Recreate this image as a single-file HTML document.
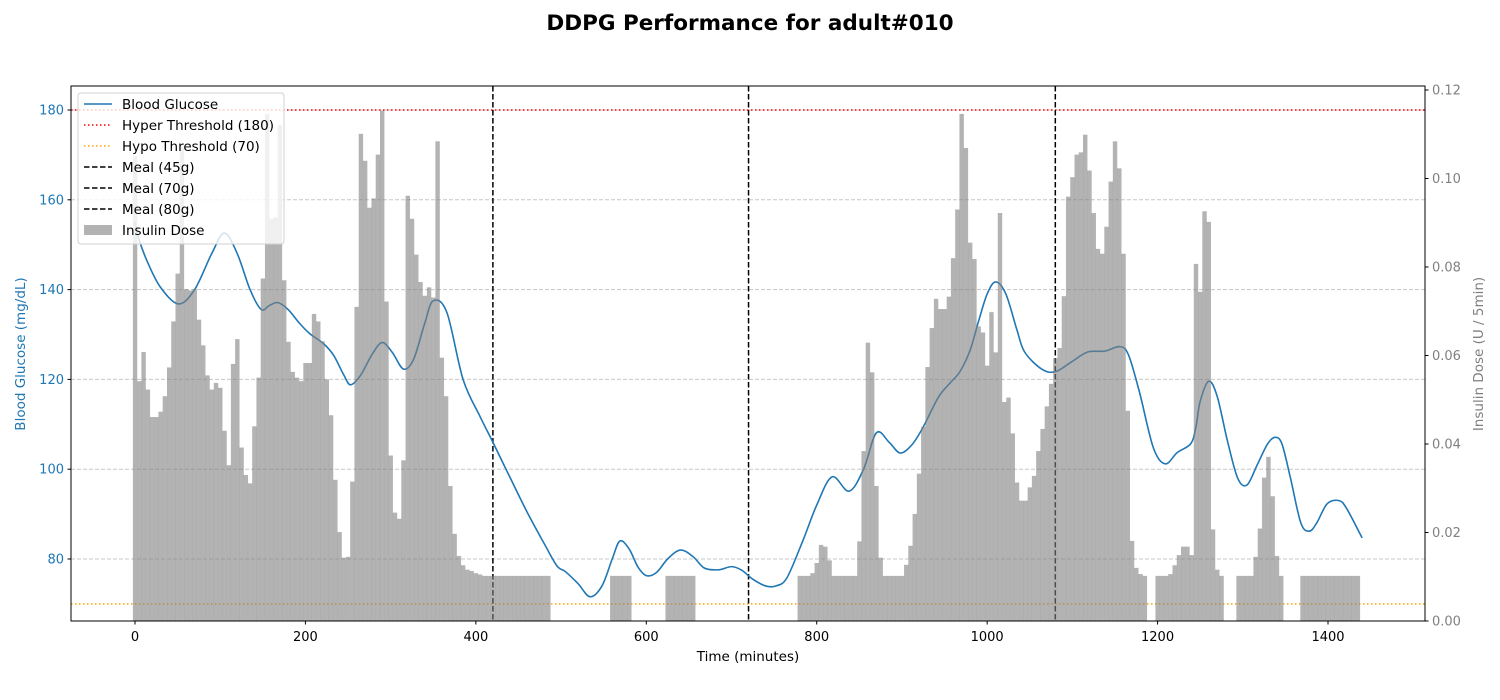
<!DOCTYPE html>
<html><head><meta charset="utf-8"><style>
html,body{margin:0;padding:0;background:#fff;}
svg{display:block;font-family:"DejaVu Sans","Liberation Sans",sans-serif;}
</style></head><body>
<svg id="chart" width="1500" height="700" viewBox="0 0 1500 700" xmlns="http://www.w3.org/2000/svg">
<text x="750" y="30" text-anchor="middle" font-size="21.5" font-weight="bold">DDPG Performance for adult#010</text>
<g id="grid"></g>
<g id="refs"></g>
<g id="line"></g>
<g id="bars"></g>
<rect x="71" y="86" width="1354" height="535" fill="none" stroke="#000" stroke-width="1"/>
<g id="axes"></g>
<text x="748" y="661" text-anchor="middle" font-size="13.5">Time (minutes)</text>
<text transform="translate(25,354) rotate(-90)" text-anchor="middle" font-size="13.5" fill="#1f77b4">Blood Glucose (mg/dL)</text>
<text transform="translate(1483,354) rotate(-90)" text-anchor="middle" font-size="13.5" fill="#808080">Insulin Dose (U / 5min)</text>
<g>
 <rect x="78" y="93" width="206" height="151" rx="3" fill="#fff" fill-opacity="0.8" stroke="#d0d0d0"/>
 <line x1="84" y1="104" x2="112" y2="104" stroke="#1f77b4" stroke-width="1.5"/>
 <text x="122" y="109" font-size="13.5">Blood Glucose</text>
 <line x1="84" y1="125" x2="112" y2="125" stroke="#ff0000" stroke-width="1.5" stroke-dasharray="1.5,2.5"/>
 <text x="122" y="130" font-size="13.5">Hyper Threshold (180)</text>
 <line x1="84" y1="146" x2="112" y2="146" stroke="#ffa500" stroke-width="1.5" stroke-dasharray="1.5,2.5"/>
 <text x="122" y="151" font-size="13.5">Hypo Threshold (70)</text>
 <line x1="84" y1="167" x2="112" y2="167" stroke="#000" stroke-width="1.5" stroke-dasharray="5.5,2.5"/>
 <text x="122" y="172" font-size="13.5">Meal (45g)</text>
 <line x1="84" y1="188" x2="112" y2="188" stroke="#000" stroke-width="1.5" stroke-dasharray="5.5,2.5"/>
 <text x="122" y="193" font-size="13.5">Meal (70g)</text>
 <line x1="84" y1="209" x2="112" y2="209" stroke="#000" stroke-width="1.5" stroke-dasharray="5.5,2.5"/>
 <text x="122" y="214" font-size="13.5">Meal (80g)</text>
 <rect x="84" y="225" width="28" height="10" fill="#b3b3b3"/>
 <text x="122" y="235" font-size="13.5">Insulin Dose</text>
</g>
</svg>
<script>
const glucoseTimes = [0,5,15,30,51,70,90,105,120,135,148,158,168,180,193,205,221,233,245,253,265,278,290,302,315,327,340,350,366,385,405,420,440,460,480,495,505,520,534,548,560,569,580,590,600,612,625,640,655,668,685,700,712,725,740,752,765,784,800,818,838,855,870,885,898,912,925,943,958,968,980,990,1000,1010,1022,1035,1044,1064,1080,1099,1118,1138,1156,1166,1179,1195,1209,1223,1239,1245,1250,1260,1270,1282,1294,1305,1317,1329,1338,1346,1356,1368,1378,1387,1399,1413,1422,1440];
const glucoseValues = [155,151,146,140.5,136.8,140,148,152.6,148,140,135.6,136.5,137.1,135.5,132.5,130.2,128,125.4,121,118.8,121,125.5,128.2,126,122.3,124.5,132.5,137.5,134.9,120,111.7,106,98.2,90.5,83.5,78.5,77.2,74.5,71.6,74,80,84,82.2,78.3,76.3,77,80,82,80.5,78,77.6,78.3,77.5,75.5,74,74,75.8,84.2,92,98.3,95.1,100,108.1,106,103.6,105.5,109.4,116.1,119.5,121.7,126.5,133,139,141.7,139,131,126.1,122.3,121.7,123.9,126.1,126.3,127.3,125.4,117,104.8,101.2,103.7,105.7,109.4,115.1,119.6,116.2,106.3,98,96.5,101,105.6,107.1,105.6,98,88.1,86.2,88.1,92.3,93,91.2,84.7];
const doseValues = [
0.105,0.0542,0.0608,0.0523,0.0461,0.0461,0.0473,0.0508,0.0573,0.0677,
0.0785,0.107,0.075,0.0747,0.075,0.0681,0.0623,0.0555,0.0523,0.0538,
0.0527,0.043,0.0352,0.0581,0.0637,0.0392,0.033,0.0311,0.044,0.055,
0.0774,0.1146,0.0909,0.0912,0.1121,0.077,0.0631,0.0563,0.055,0.0542,
0.0583,0.0583,0.0694,0.0677,0.0632,0.0546,0.0465,0.0319,0.0201,0.0143,
0.0145,0.0315,0.071,0.1101,0.104,0.0934,0.0955,0.1054,0.1154,0.0722,
0.0374,0.0245,0.0231,0.0363,0.0961,0.0909,0.0828,0.0766,0.0735,0.0754,
0.0731,0.1084,0.0595,0.0508,0.0305,0.0197,0.0147,0.0126,0.0116,0.0113,
0.0108,0.0105,0.0102,0.0102,0.0102,0.0102,0.0102,0.0102,0.0102,0.0102,
0.0102,0.0102,0.0102,0.0102,0.0102,0.0102,0.0102,0.0102,0,0,
0,0,0,0,0,0,0,0,0,0,
0,0,0.0102,0.0102,0.0102,0.0102,0.0102,0,0,0,
0,0,0,0,0,0.0102,0.0102,0.0102,0.0102,0.0102,
0.0102,0.0102,0,0,0,0,0,0,0,0,
0,0,0,0,0,0,0,0,0,0,
0,0,0,0,0,0,0.0102,0.0102,0.0102,0.0108,
0.0131,0.0172,0.0168,0.0137,0.0102,0.0102,0.0102,0.0102,0.0102,0.0102,
0.018,0.0384,0.0629,0.0562,0.0305,0.0143,0.0102,0.0102,0.0102,0.0102,
0.0102,0.0127,0.017,0.0242,0.0333,0.0439,0.0574,0.0662,0.0728,0.0705,
0.0705,0.0733,0.082,0.093,0.1146,0.1069,0.0855,0.0818,0.0666,0.0652,
0.0577,0.0698,0.0607,0.0922,0.0495,0.0505,0.0424,0.0313,0.0272,0.0272,
0.0302,0.0328,0.0384,0.0434,0.0485,0.0536,0.0594,0.0617,0.0734,0.0959,
0.1003,0.1054,0.1059,0.1099,0.1018,0.0922,0.0841,0.083,0.0891,0.0993,
0.1084,0.1023,0.083,0.0475,0.0181,0.012,0.0106,0.0102,0,0,
0.0102,0.0102,0.0102,0.0106,0.0126,0.0149,0.0168,0.0168,0.0149,0.0807,
0.0744,0.0926,0.0902,0.0207,0.0116,0.0102,0,0,0,0.0102,
0.0102,0.0102,0.0102,0.0145,0.0209,0.0324,0.0371,0.0282,0.0147,0.0102,
0,0,0,0,0.0102,0.0102,0.0102,0.0102,0.0102,0.0102,
0.0102,0.0102,0.0102,0.0102,0.0102,0.0102,0.0102,0.0102];
const doseInterval = 5;
const mealTimes = [420,720,1080];
const hyperLevel = 180;
const hypoLevel = 70;
const xTicks = [0,200,400,600,800,1000,1200,1400];
const glucoseTicks = [80,100,120,140,160,180];
const doseTicks = ["0.00","0.02","0.04","0.06","0.08","0.10","0.12"];

const NS = "http://www.w3.org/2000/svg";
const X0 = 135, XS = 0.85214;
function xs(t){ return X0 + t*XS; }
function yg(g){ return 110 + (180-g)*4.49; }
function yd(d){ return 621 - d*4425; }
function mk(tag, attrs, parent){
  const e = document.createElementNS(NS, tag);
  for (const k in attrs) e.setAttribute(k, attrs[k]);
  parent.appendChild(e);
  return e;
}
const grid = document.getElementById('grid');
const refs = document.getElementById('refs');
const lineG = document.getElementById('line');
const barsG = document.getElementById('bars');
const axes = document.getElementById('axes');

glucoseTicks.forEach(g => {
  const l = mk('line', {x1:71, x2:1425, y1:yg(g), y2:yg(g), stroke:'#c8c8c8', 'stroke-dasharray':'4,2', 'stroke-width':1}, grid);
  
  
  const tk = mk('line', {x1:67.5, x2:71, y1:yg(g), y2:yg(g), stroke:'#000'}, axes);
  
  
  const tx = mk('text', {x:64, y:yg(g)+4.5, 'text-anchor':'end', 'font-size':13, fill:'#1f77b4'}, axes);
  tx.textContent = g;
  
  
});
doseTicks.forEach(s => {
  const d = parseFloat(s);
  const tk = mk('line', {x1:1425, x2:1428.5, y1:yd(d), y2:yd(d), stroke:'#000'}, axes);
  
  
  const tx = mk('text', {x:1432, y:yd(d)+4.5, 'font-size':13, fill:'#808080'}, axes);
  tx.textContent = s;
  
  
});
xTicks.forEach(t => {
  const tk = mk('line', {x1:xs(t), x2:xs(t), y1:621, y2:624.5, stroke:'#000'}, axes);
  
  
  const tx = mk('text', {x:xs(t), y:641, 'text-anchor':'middle', 'font-size':13}, axes);
  tx.textContent = t;
  
  
});

const hy = mk('line', {x1:71, x2:1425, y1:yg(hyperLevel), y2:yg(hyperLevel), stroke:'#ff0000', 'stroke-width':1.5, 'stroke-dasharray':'1.5,2.5'}, refs);


const ho = mk('line', {x1:71, x2:1425, y1:yg(hypoLevel), y2:yg(hypoLevel), stroke:'#ffa500', 'stroke-width':1.5, 'stroke-dasharray':'1.5,2.5'}, refs);


mealTimes.forEach(t => {
  const m = mk('line', {x1:xs(t), x2:xs(t), y1:86, y2:621, stroke:'#000', 'stroke-width':1.5, 'stroke-dasharray':'5.5,2.5'}, refs);
  
  
});

const pts = glucoseTimes.map((t,i) => [xs(t), yg(glucoseValues[i])]);
let d = 'M' + pts[0][0].toFixed(2) + ',' + pts[0][1].toFixed(2);
for (let i = 0; i < pts.length-1; i++){
  const p0 = pts[Math.max(0,i-1)], p1 = pts[i], p2 = pts[i+1], p3 = pts[Math.min(pts.length-1,i+2)];
  const c1x = p1[0] + (p2[0]-p0[0])/6, c1y = p1[1] + (p2[1]-p0[1])/6;
  const c2x = p2[0] - (p3[0]-p1[0])/6, c2y = p2[1] - (p3[1]-p1[1])/6;
  d += ' C' + c1x.toFixed(2) + ',' + c1y.toFixed(2) + ' ' + c2x.toFixed(2) + ',' + c2y.toFixed(2) + ' ' + p2[0].toFixed(2) + ',' + p2[1].toFixed(2);
}
const path = mk('path', {d:d, fill:'none', stroke:'#1f77b4', 'stroke-width':1.6}, lineG);



const bw = doseInterval*XS;
doseValues.forEach((v,i) => {
  if (v <= 0) return;
  const t = i*doseInterval;
  const r = mk('rect', {x:(xs(t)-bw/2).toFixed(2), y:yd(v).toFixed(2), width:(bw+0.15).toFixed(2), height:(621-yd(v)).toFixed(2), fill:'#808080', 'fill-opacity':0.6}, barsG);
  
  
});
</script>
</body></html>
